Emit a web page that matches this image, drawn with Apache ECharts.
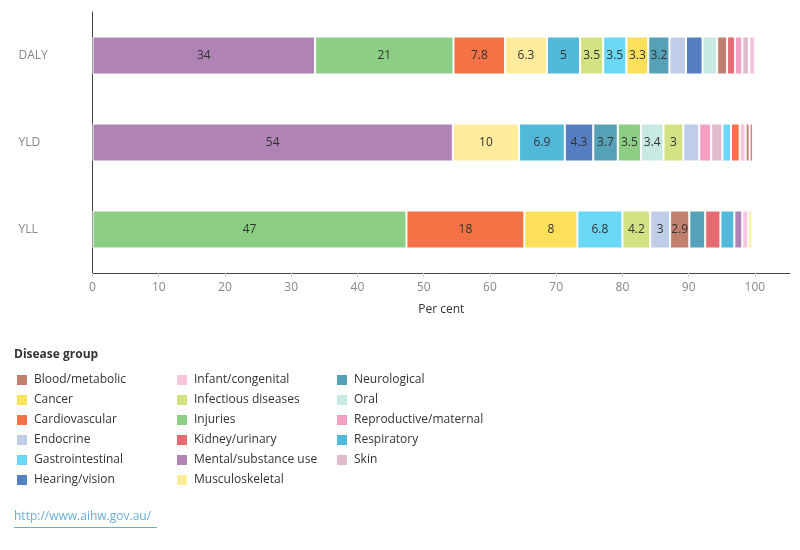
<!DOCTYPE html>
<html>
<head>
<meta charset="utf-8">
<script src="https://cdn.jsdelivr.net/npm/echarts@6/dist/echarts.min.js"></script>
<style>html,body{margin:0;padding:0;background:#fff;}#chart{width:800px;height:550px;}</style>
</head>
<body>
<div id="chart"></div>
<script>
// ---- Data ----
const measures = ['DALY', 'YLD', 'YLL'];

const dalyGroups = ['Mental/substance use', 'Injuries', 'Cardiovascular', 'Musculoskeletal', 'Respiratory',
  'Infectious diseases', 'Gastrointestinal', 'Cancer', 'Neurological', 'Endocrine', 'Hearing/vision', 'Oral',
  'Blood/metabolic', 'Kidney/urinary', 'Reproductive/maternal', 'Skin', 'Infant/congenital'];
const dalyValues = [33.6, 20.9, 7.8, 6.3, 5.0, 3.5, 3.5, 3.3, 3.2, 2.5, 2.5, 2.2, 1.5, 1.2, 1.1, 1.0, 0.95];

const yldGroups = ['Mental/substance use', 'Musculoskeletal', 'Respiratory', 'Hearing/vision', 'Neurological',
  'Injuries', 'Oral', 'Infectious diseases', 'Endocrine', 'Reproductive/maternal', 'Skin', 'Gastrointestinal',
  'Cardiovascular', 'Infant/congenital', 'Blood/metabolic', 'Kidney/urinary', 'Cancer'];
const yldValues = [54.4, 10.0, 6.9, 4.3, 3.7, 3.5, 3.4, 3.0, 2.4, 1.8, 1.7, 1.3, 1.3, 0.9, 0.6, 0.5, 0.25];

const yllGroups = ['Injuries', 'Cardiovascular', 'Cancer', 'Gastrointestinal', 'Infectious diseases', 'Endocrine',
  'Blood/metabolic', 'Neurological', 'Kidney/urinary', 'Respiratory', 'Mental/substance use', 'Infant/congenital',
  'Musculoskeletal'];
const yllValues = [47.4, 17.8, 8.0, 6.8, 4.2, 3.0, 2.9, 2.4, 2.3, 2.1, 1.2, 0.9, 0.6];

const diseaseGroups = ['Blood/metabolic', 'Cancer', 'Cardiovascular', 'Endocrine', 'Gastrointestinal', 'Hearing/vision',
  'Infant/congenital', 'Infectious diseases', 'Injuries', 'Kidney/urinary', 'Mental/substance use', 'Musculoskeletal',
  'Neurological', 'Oral', 'Reproductive/maternal', 'Respiratory', 'Skin'];
const diseaseColors = ['#c17f6d', '#fde05a', '#f47245', '#bfcde8', '#69d7f5', '#567ec2',
  '#f8c6dc', '#d3e384', '#8ccf84', '#e36b71', '#b083b5', '#feeb9c',
  '#55a1b7', '#c8e8e4', '#f49fc4', '#53b9db', '#dfbccb'];

const xTicks = [0, 10, 20, 30, 40, 50, 60, 70, 80, 90, 100];

// ---- Build ----
const colorOf = {};
diseaseGroups.forEach((g, i) => colorOf[g] = diseaseColors[i]);
const byMeasure = {
  DALY: { groups: dalyGroups, values: dalyValues },
  YLD: { groups: yldGroups, values: yldValues },
  YLL: { groups: yllGroups, values: yllValues }
};
const maxLen = Math.max(dalyGroups.length, yldGroups.length, yllGroups.length);
const FONT = 'Open Sans';

const series = [];
for (let i = 0; i < maxLen; i++) {
  series.push({
    type: 'bar',
    stack: 'total',
    barWidth: 38,
    silent: true,
    itemStyle: { borderColor: '#fff', borderWidth: 1 },
    label: {
      show: true,
      position: 'inside',
      color: '#333',
      fontFamily: FONT,
      fontSize: 12,
      formatter: p => (p.value >= 2.8 ? String(Number(p.value.toPrecision(2))) : '')
    },
    data: measures.map(m => {
      const d = byMeasure[m];
      if (i >= d.groups.length) return '-';
      return { value: d.values[i], name: d.groups[i], itemStyle: { color: colorOf[d.groups[i]] } };
    })
  });
}
// legend-only series
diseaseGroups.forEach((g, i) => {
  series.push({ type: 'bar', stack: 'total', name: g, data: [], itemStyle: { color: diseaseColors[i] } });
});

function legendCol(names, left) {
  return {
    orient: 'vertical', left: left, top: 369, icon: 'rect',
    itemWidth: 10, itemHeight: 10, itemGap: 8, selectedMode: false,
    textStyle: { fontFamily: FONT, fontSize: 12, color: '#333', padding: [0, 0, 0, 2] },
    data: names
  };
}

const option = {
  animation: false,
  backgroundColor: '#fff',
  grid: { left: 92.5, right: 10, top: 12, bottom: 277 },
  xAxis: {
    type: 'value', min: 0, max: 105.3,
    name: 'Per cent', nameLocation: 'middle', nameGap: 31,
    nameTextStyle: { fontFamily: FONT, fontSize: 12, color: '#333' },
    axisLine: { show: true, lineStyle: { color: '#444', width: 1 } },
    axisTick: { show: true, length: 4, lineStyle: { color: '#ccc' }, customValues: xTicks },
    axisLabel: { fontFamily: FONT, fontSize: 12, color: '#888', margin: 9, customValues: xTicks },
    splitLine: { show: false }
  },
  yAxis: {
    type: 'category', data: measures, inverse: true,
    axisLine: { show: true, lineStyle: { color: '#444', width: 1 } },
    axisTick: { show: false },
    axisLabel: { fontFamily: FONT, fontSize: 12, color: '#888', align: 'left', margin: 74 }
  },
  legend: [
    legendCol(diseaseGroups.slice(0, 6), 12),
    legendCol(diseaseGroups.slice(6, 12), 172),
    legendCol(diseaseGroups.slice(12), 332)
  ],
  graphic: [
    { type: 'text', left: 14, top: 349, style: { text: 'Disease group', fontFamily: FONT, fontSize: 12, fontWeight: 'bold', fill: '#333' } },
    { type: 'text', left: 14, top: 511, style: { text: 'http://www.aihw.gov.au/', fontFamily: FONT, fontSize: 12, fill: '#6aaed6' } },
    { type: 'line', shape: { x1: 14, y1: 527.5, x2: 157, y2: 527.5 }, style: { stroke: '#6aaed6', lineWidth: 1 } }
  ],
  series: series
};

const chart = echarts.init(document.getElementById('chart'), null, { renderer: 'canvas' });
chart.setOption(option);
</script>
</body>
</html>
